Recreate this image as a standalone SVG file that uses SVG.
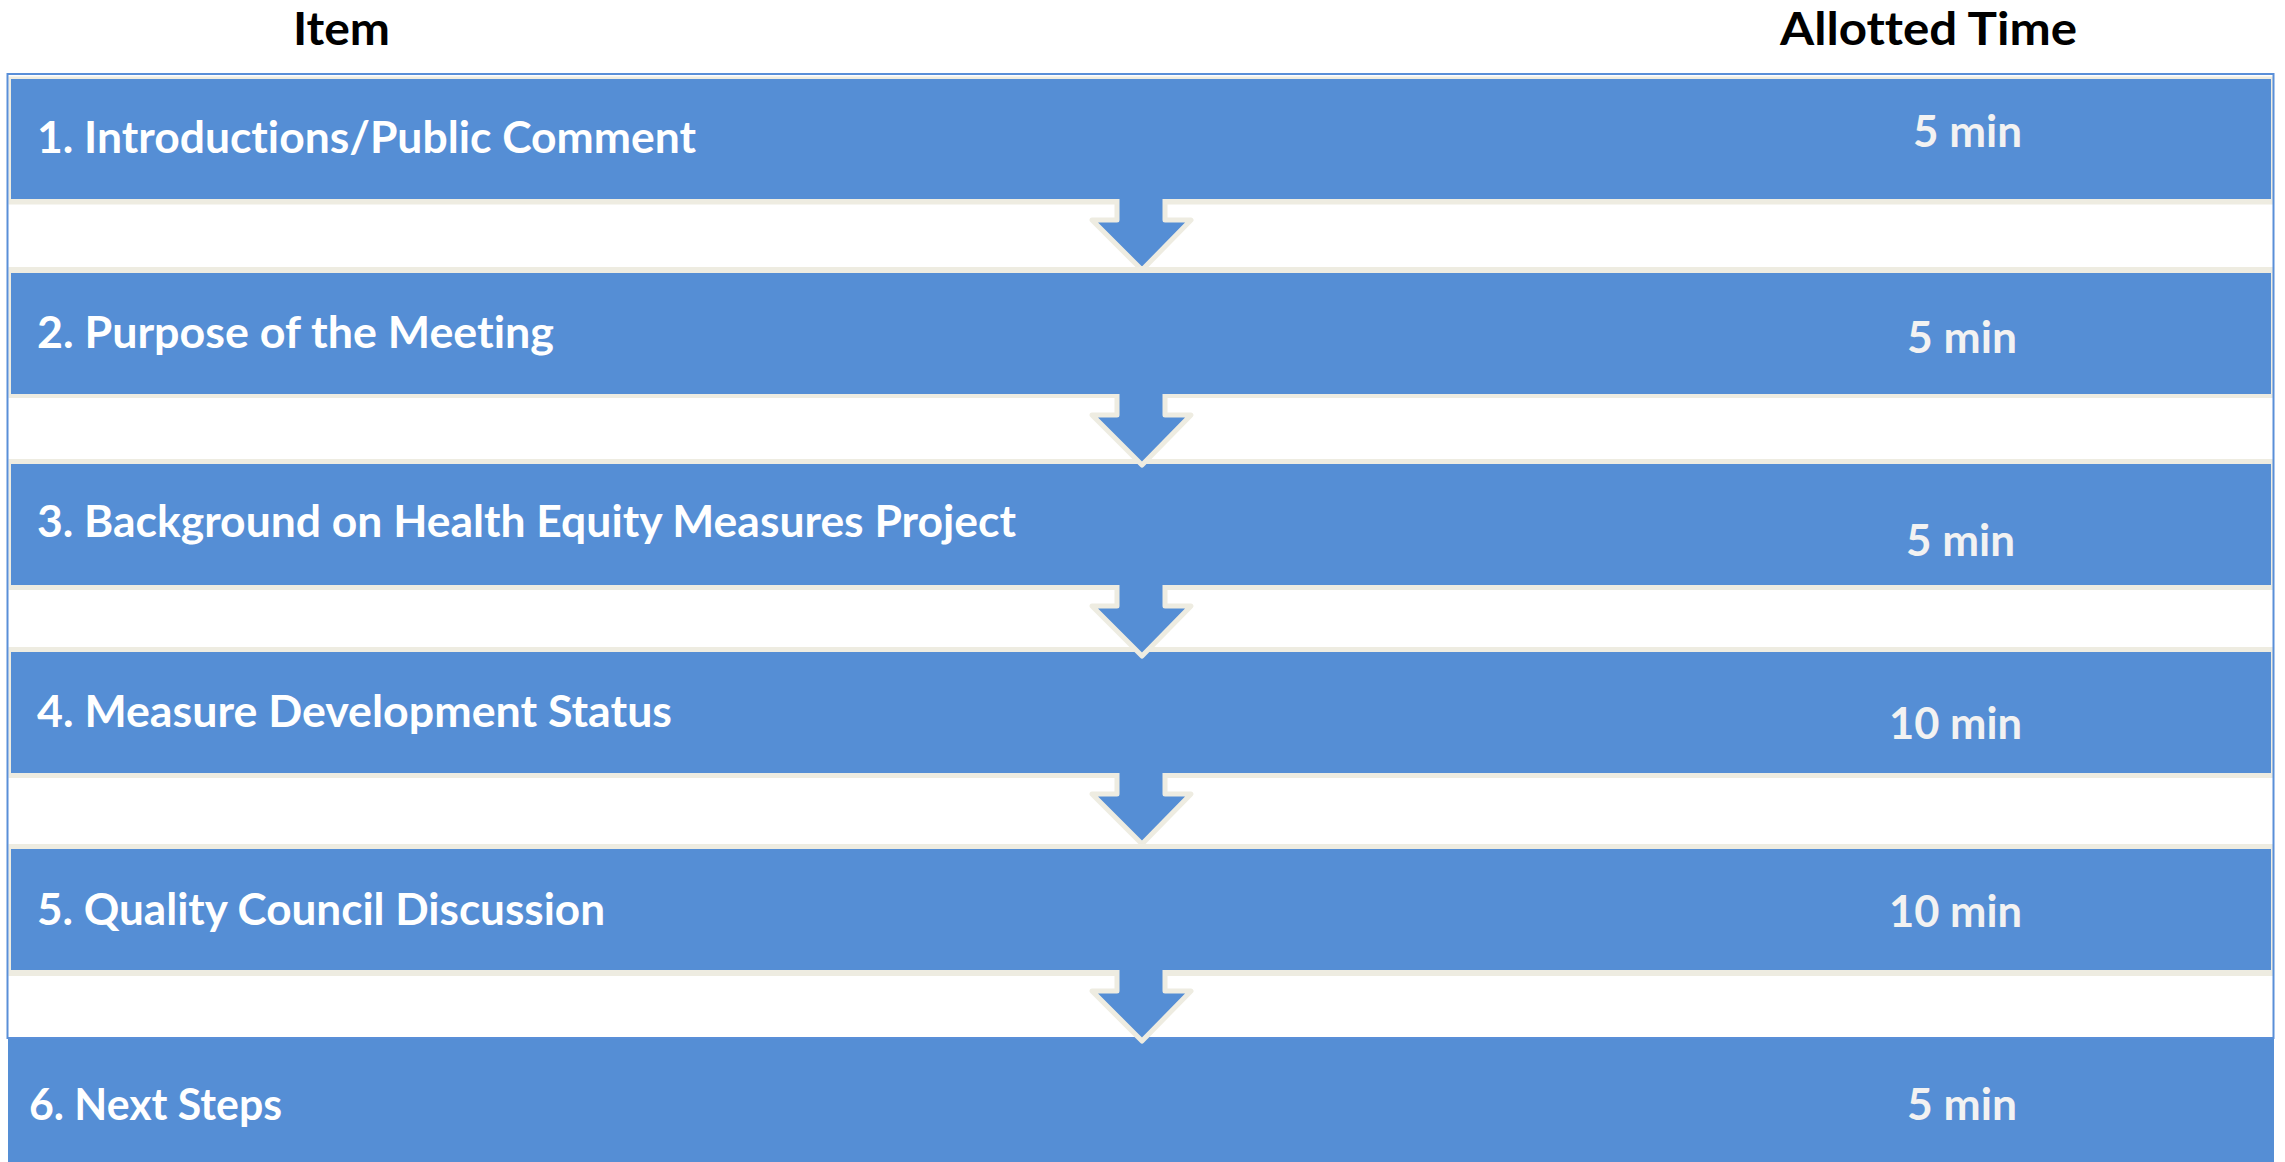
<svg xmlns="http://www.w3.org/2000/svg" width="2285" height="1162" viewBox="0 0 2285 1162">
<style>
text{font-variant-ligatures:none;font-feature-settings:"liga" 0,"clig" 0}
.hdr{font-family:Lato,"Liberation Sans",sans-serif;font-weight:bold;font-size:45px;fill:#000}
.item{font-family:Lato,"Liberation Sans",sans-serif;font-weight:bold;font-size:43px;fill:#ffffff}
.time{font-family:Lato,"Liberation Sans",sans-serif;font-weight:bold;font-size:43px;fill:#f2f2f2}
.edge{fill:#eeece1}
.bar{fill:#558ed5}
.arrow{fill:#558ed5;stroke:#eeece1;stroke-width:5;stroke-linejoin:round}
</style>
<rect width="2285" height="1162" fill="#ffffff"/>
<g id="headers">
<text class="hdr" x="293" y="45" textLength="97" lengthAdjust="spacingAndGlyphs">Item</text>
<text class="hdr" x="1780" y="45" textLength="297" lengthAdjust="spacingAndGlyphs">Allotted Time</text>
</g>
<g id="row1">
<rect class="edge" x="8.5" y="76.5" width="2265" height="128"/>
<rect class="bar" x="11" y="79" width="2260" height="120"/>
<text class="item" x="37" y="153" textLength="659" lengthAdjust="spacingAndGlyphs">1. Introductions/Public Comment</text>
<text class="time" x="1913" y="147" textLength="109" lengthAdjust="spacingAndGlyphs">5 min</text>
</g>
<g id="row2">
<rect class="edge" x="8.5" y="267" width="2265" height="131"/>
<rect class="bar" x="11" y="273" width="2260" height="121"/>
<text class="item" x="37" y="348" textLength="517" lengthAdjust="spacingAndGlyphs">2. Purpose of the Meeting</text>
<text class="time" x="1907" y="353" textLength="110" lengthAdjust="spacingAndGlyphs">5 min</text>
</g>
<g id="row3">
<rect class="edge" x="8.5" y="459" width="2265" height="131"/>
<rect class="bar" x="11" y="464" width="2260" height="121"/>
<text class="item" x="37" y="537" textLength="979" lengthAdjust="spacingAndGlyphs">3. Background on Health Equity Measures Project</text>
<text class="time" x="1906" y="556" textLength="109" lengthAdjust="spacingAndGlyphs">5 min</text>
</g>
<g id="row4">
<rect class="edge" x="8.5" y="647" width="2265" height="131"/>
<rect class="bar" x="11" y="652" width="2260" height="121"/>
<text class="item" x="37" y="727" textLength="635" lengthAdjust="spacingAndGlyphs">4. Measure Development Status</text>
<text class="time" x="1889" y="739" textLength="133" lengthAdjust="spacingAndGlyphs">10 min</text>
</g>
<g id="row5">
<rect class="edge" x="8.5" y="844" width="2265" height="132"/>
<rect class="bar" x="11" y="849" width="2260" height="121"/>
<text class="item" x="37" y="925" textLength="568" lengthAdjust="spacingAndGlyphs">5. Quality Council Discussion</text>
<text class="time" x="1889" y="927" textLength="133" lengthAdjust="spacingAndGlyphs">10 min</text>
</g>
<g id="row6">
<rect class="bar" x="8" y="1039" width="2266" height="123"/>
<text class="item" x="29" y="1120" textLength="253" lengthAdjust="spacingAndGlyphs">6. Next Steps</text>
<text class="time" x="1907" y="1120" textLength="110" lengthAdjust="spacingAndGlyphs">5 min</text>
</g>
<rect id="frame" x="7.5" y="74" width="2266" height="964" fill="none" stroke="#5a8fd8" stroke-width="2"/>
<g id="connectors">
<path class="arrow" d="M1117,199 V220 H1092 L1142,270 L1191,220 H1165 V199"/>
<path class="arrow" d="M1117,394 V415 H1092 L1142,465 L1191,415 H1165 V394"/>
<path class="arrow" d="M1117,585 V606 H1092 L1142,656 L1191,606 H1165 V585"/>
<path class="arrow" d="M1117,773 V794 H1092 L1142,844 L1191,794 H1165 V773"/>
<path class="arrow" d="M1117,970 V991 H1092 L1142,1041 L1191,991 H1165 V970"/>
</g>
</svg>
